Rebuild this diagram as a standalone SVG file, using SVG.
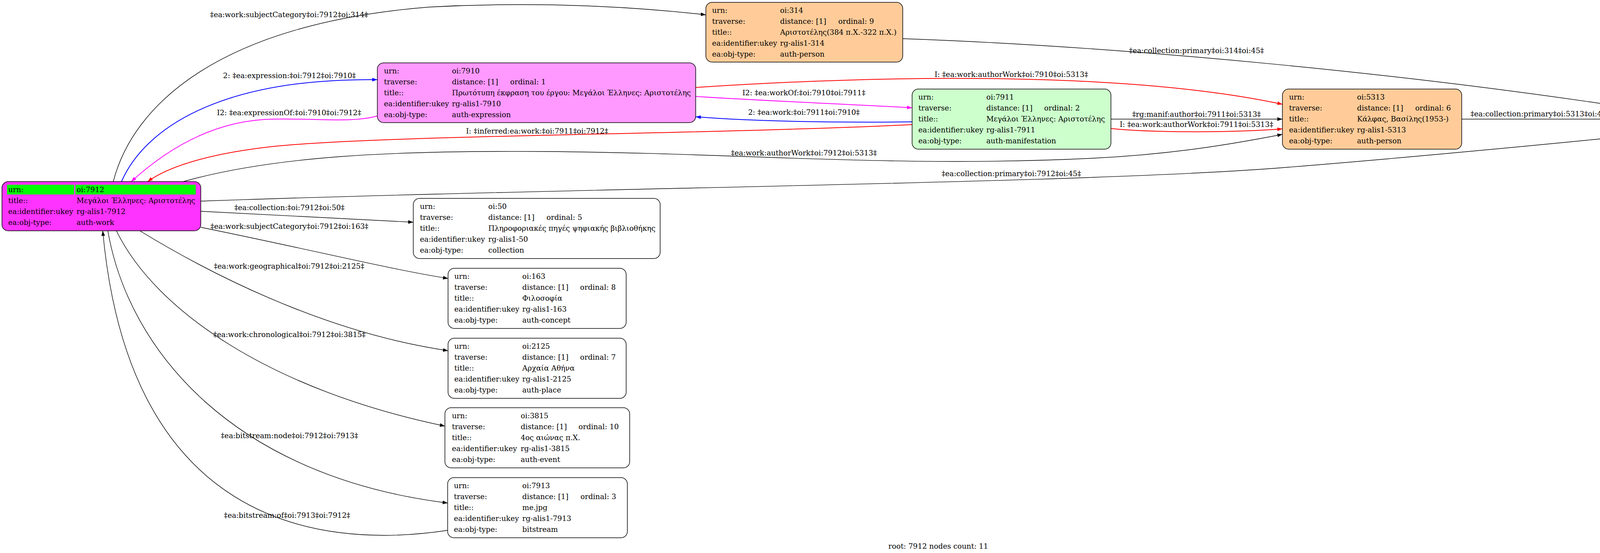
<svg xmlns="http://www.w3.org/2000/svg" width="4805" height="1416" viewBox="0 0 4805 1416">
<style>
text{font-family:"DejaVu Serif","Liberation Serif",serif;font-size:18.67px;fill:#000}
.box{stroke:#000;stroke-width:1.5}
.e{fill:none;stroke-width:1.4}
.k{stroke:#000}
.b{stroke:#0000ff;stroke-width:2}
.m{stroke:#ff00ff;stroke-width:2}
.r{stroke:#ff0000;stroke-width:2}
.lbl{text-anchor:middle}
</style>
<defs>
<marker id="ak" viewBox="0 0 14 10" markerWidth="14" markerHeight="10" refX="13" refY="5" orient="auto" markerUnits="userSpaceOnUse"><path d="M0,0.3 L13,5 L0,9.7z" fill="#000"/></marker>
<marker id="ab" viewBox="0 0 14 10" markerWidth="14" markerHeight="10" refX="13" refY="5" orient="auto" markerUnits="userSpaceOnUse"><path d="M0,0.3 L13,5 L0,9.7z" fill="#0000ff"/></marker>
<marker id="am" viewBox="0 0 14 10" markerWidth="14" markerHeight="10" refX="13" refY="5" orient="auto" markerUnits="userSpaceOnUse"><path d="M0,0.3 L13,5 L0,9.7z" fill="#ff00ff"/></marker>
<marker id="ar" viewBox="0 0 14 10" markerWidth="14" markerHeight="10" refX="13" refY="5" orient="auto" markerUnits="userSpaceOnUse"><path d="M0,0.3 L13,5 L0,9.7z" fill="#ff0000"/></marker>
</defs>
<rect width="4805" height="1416" fill="#fff"/>

<g id="edges">
<path class="e k" d="M290,465 C340,270 560,60 1100,18 C1400,2 1650,20 1807,38" marker-end="url(#ak)"/>
<text class="lbl" x="740" y="44">‡ea:work:subjectCategory‡oi:7912‡oi:314‡</text>

<path class="e b" d="M311,465 C370,330 560,200 966,204" marker-end="url(#ab)"/>
<text class="lbl" x="741" y="200">2: ‡ea:expression:‡oi:7912‡oi:7910‡</text>

<path class="e m" d="M966,297 C900,315 820,303 700,305 C560,307 440,370 336,465" marker-end="url(#am)"/>
<text class="lbl" x="740" y="295">I2: ‡ea:expressionOf:‡oi:7910‡oi:7912‡</text>

<path class="e r" d="M1781,224 C2300,190 2900,185 3283,267" marker-end="url(#ar)"/>
<text class="lbl" x="2589" y="197">I: ‡ea:work:authorWork‡oi:7910‡oi:5313‡</text>

<path class="e m" d="M1781,247 C1950,258 2200,268 2335,276" marker-end="url(#am)"/>
<text class="lbl" x="2058" y="244">I2: ‡ea:workOf:‡oi:7910‡oi:7911‡</text>

<path class="e b" d="M2335,312 C2150,314 1950,312 1781,299" marker-end="url(#ab)"/>
<text class="lbl" x="2058" y="294">2: ‡ea:work:‡oi:7911‡oi:7910‡</text>

<path class="e r" d="M2335,319 C1800,345 1000,345 700,375 C560,390 440,420 378,465" marker-end="url(#ar)"/>
<text class="lbl" x="1375" y="342">I: ‡inferred:ea:work:‡oi:7911‡oi:7912‡</text>

<path class="e k" d="M469,465 C700,400 1000,385 1400,388 C1900,392 2300,430 2800,405 C3000,395 3150,370 3283,344" marker-end="url(#ak)"/>
<text class="lbl" x="2058" y="398">‡ea:work:authorWork‡oi:7912‡oi:5313‡</text>

<path class="e k" d="M514,515 C1500,480 2800,470 3300,428 C3650,400 3950,370 4145,351" marker-end="url(#ak)"/>
<text class="lbl" x="2589" y="451">‡ea:collection:primary‡oi:7912‡oi:45‡</text>

<path class="e k" d="M2311,99 C2900,120 3600,190 4145,272" marker-end="url(#ak)"/>
<text class="lbl" x="3063" y="136">‡ea:collection:primary‡oi:314‡oi:45‡</text>

<path class="e k" d="M3742,305 L4145,305" marker-end="url(#ak)"/>
<text class="lbl" x="3943" y="298">‡ea:collection:primary‡oi:5313‡oi:45‡</text>

<path class="e k" d="M2844,305 L3283,305" marker-end="url(#ak)"/>
<text class="lbl" x="3063" y="299">‡rg:manif:author‡oi:7911‡oi:5313‡</text>

<path class="e r" d="M2844,329 C2950,340 3150,340 3283,330" marker-end="url(#ar)"/>
<text class="lbl" x="3063" y="325">I: ‡ea:work:authorWork‡oi:7911‡oi:5313‡</text>

<path class="e k" d="M514,541 L1058,569" marker-end="url(#ak)"/>
<text class="lbl" x="741" y="538">‡ea:collection:‡oi:7912‡oi:50‡</text>

<path class="e k" d="M514,582 C800,640 1000,690 1147,713" marker-end="url(#ak)"/>
<text class="lbl" x="741" y="586">‡ea:work:subjectCategory‡oi:7912‡oi:163‡</text>

<path class="e k" d="M358,591 C520,690 820,850 1147,898" marker-end="url(#ak)"/>
<text class="lbl" x="740" y="688">‡ea:work:geographical‡oi:7912‡oi:2125‡</text>

<path class="e k" d="M298,591 C400,800 700,1000 1139,1091" marker-end="url(#ak)"/>
<text class="lbl" x="741" y="863">‡ea:work:chronological‡oi:7912‡oi:3815‡</text>

<path class="e k" d="M276,591 C330,900 600,1220 1146,1288" marker-end="url(#ak)"/>
<text class="lbl" x="741" y="1122">‡ea:bitstream:node‡oi:7912‡oi:7913‡</text>

<path class="e k" d="M1146,1358 C800,1410 330,1330 263,591" marker-end="url(#ak)"/>
<text class="lbl" x="735" y="1326">‡ea:bitstream:of‡oi:7913‡oi:7912‡</text>
</g>

<g id="n7912">
<rect class="box" x="5" y="465" width="509" height="126" rx="16" fill="#ff33ff"/>
<rect x="18" y="473" width="172" height="25" fill="#00ff00"/>
<rect x="193" y="473" width="308" height="25" fill="#00ff00"/>
<text x="21" y="491.5">urn:</text><text x="196" y="491.5">oi:7912</text>
<text x="21" y="519.5">title::</text><text x="196" y="519.5">Μεγάλοι Έλληνες: Αριστοτέλης</text>
<text x="21" y="547.5">ea:identifier:ukey</text><text x="196" y="547.5">rg-alis1-7912</text>
<text x="21" y="575.5">ea:obj-type:</text><text x="196" y="575.5">auth-work</text>
</g>

<g id="n7910">
<rect class="box" x="966" y="161" width="815" height="153" rx="16" fill="#ff99ff"/>
<text x="983" y="188">urn:</text><text x="1157" y="188">oi:7910</text>
<text x="983" y="216">traverse:</text><text x="1157" y="216">distance: [1]</text><text x="1306" y="216">ordinal: 1</text>
<text x="983" y="244">title::</text><text x="1157" y="244">Πρωτότυπη έκφραση του έργου: Μεγάλοι Έλληνες: Αριστοτέλης</text>
<text x="983" y="272">ea:identifier:ukey</text><text x="1157" y="272">rg-alis1-7910</text>
<text x="983" y="300">ea:obj-type:</text><text x="1157" y="300">auth-expression</text>
</g>

<g id="n314">
<rect class="box" x="1807" y="6" width="504" height="153" rx="16" fill="#ffcc99"/>
<text x="1823" y="33">urn:</text><text x="1997" y="33">oi:314</text>
<text x="1823" y="61">traverse:</text><text x="1997" y="61">distance: [1]</text><text x="2146" y="61">ordinal: 9</text>
<text x="1823" y="89">title::</text><text x="1997" y="89">Αριστοτέλης(384 π.Χ.-322 π.Χ.)</text>
<text x="1823" y="117">ea:identifier:ukey</text><text x="1997" y="117">rg-alis1-314</text>
<text x="1823" y="145">ea:obj-type:</text><text x="1997" y="145">auth-person</text>
</g>

<g id="n7911">
<rect class="box" x="2335" y="228" width="509" height="154" rx="16" fill="#ccffcc"/>
<text x="2351" y="255">urn:</text><text x="2525" y="255">oi:7911</text>
<text x="2351" y="283">traverse:</text><text x="2525" y="283">distance: [1]</text><text x="2673" y="283">ordinal: 2</text>
<text x="2351" y="311">title::</text><text x="2525" y="311">Μεγάλοι Έλληνες: Αριστοτέλης</text>
<text x="2351" y="339">ea:identifier:ukey</text><text x="2525" y="339">rg-alis1-7911</text>
<text x="2351" y="367">ea:obj-type:</text><text x="2525" y="367">auth-manifestation</text>
</g>

<g id="n5313">
<rect class="box" x="3283" y="228" width="459" height="154" rx="16" fill="#ffcc99"/>
<text x="3300" y="255">urn:</text><text x="3474" y="255">oi:5313</text>
<text x="3300" y="283">traverse:</text><text x="3474" y="283">distance: [1]</text><text x="3623" y="283">ordinal: 6</text>
<text x="3300" y="311">title::</text><text x="3474" y="311">Κάλφας, Βασίλης(1953-)</text>
<text x="3300" y="339">ea:identifier:ukey</text><text x="3474" y="339">rg-alis1-5313</text>
<text x="3300" y="367">ea:obj-type:</text><text x="3474" y="367">auth-person</text>
</g>

<g id="n45">
<rect class="box" x="4145" y="228" width="658" height="154" rx="16" fill="#fff"/>
<text x="4162" y="255">urn:</text><text x="4337" y="255">oi:45</text>
<text x="4162" y="283">traverse:</text><text x="4337" y="283">distance: [1]</text><text x="4486" y="283">ordinal: 4</text>
<text x="4162" y="311">title::</text><text x="4337" y="311">36. Ιστορία της Αρχαίας ελληνικής φιλοσοφίας</text>
<text x="4162" y="339">ea:identifier:ukey</text><text x="4337" y="339">rg-alis1-45</text>
<text x="4162" y="367">ea:obj-type:</text><text x="4337" y="367">collection</text>
</g>

<g id="n50">
<rect class="box" x="1058" y="508" width="632" height="154" rx="16" fill="#fff"/>
<text x="1075" y="535">urn:</text><text x="1250" y="535">oi:50</text>
<text x="1075" y="563">traverse:</text><text x="1250" y="563">distance: [1]</text><text x="1399" y="563">ordinal: 5</text>
<text x="1075" y="591">title::</text><text x="1250" y="591">Πληροφοριακές πηγές ψηφιακής βιβλιοθήκης</text>
<text x="1075" y="619">ea:identifier:ukey</text><text x="1250" y="619">rg-alis1-50</text>
<text x="1075" y="647">ea:obj-type:</text><text x="1250" y="647">collection</text>
</g>

<g id="n163">
<rect class="box" x="1147" y="687" width="456" height="154" rx="16" fill="#fff"/>
<text x="1163" y="714">urn:</text><text x="1337" y="714">oi:163</text>
<text x="1163" y="742">traverse:</text><text x="1337" y="742">distance: [1]</text><text x="1485" y="742">ordinal: 8</text>
<text x="1163" y="770">title::</text><text x="1337" y="770">Φιλοσοφία</text>
<text x="1163" y="798">ea:identifier:ukey</text><text x="1337" y="798">rg-alis1-163</text>
<text x="1163" y="826">ea:obj-type:</text><text x="1337" y="826">auth-concept</text>
</g>

<g id="n2125">
<rect class="box" x="1147" y="866" width="456" height="154" rx="16" fill="#fff"/>
<text x="1163" y="893">urn:</text><text x="1337" y="893">oi:2125</text>
<text x="1163" y="921">traverse:</text><text x="1337" y="921">distance: [1]</text><text x="1485" y="921">ordinal: 7</text>
<text x="1163" y="949">title::</text><text x="1337" y="949">Αρχαία Αθήνα</text>
<text x="1163" y="977">ea:identifier:ukey</text><text x="1337" y="977">rg-alis1-2125</text>
<text x="1163" y="1005">ea:obj-type:</text><text x="1337" y="1005">auth-place</text>
</g>

<g id="n3815">
<rect class="box" x="1139" y="1044" width="473" height="154" rx="16" fill="#fff"/>
<text x="1157" y="1071">urn:</text><text x="1333" y="1071">oi:3815</text>
<text x="1157" y="1099">traverse:</text><text x="1333" y="1099">distance: [1]</text><text x="1481" y="1099">ordinal: 10</text>
<text x="1157" y="1127">title::</text><text x="1333" y="1127">4ος αιώνας π.Χ.</text>
<text x="1157" y="1155">ea:identifier:ukey</text><text x="1333" y="1155">rg-alis1-3815</text>
<text x="1157" y="1183">ea:obj-type:</text><text x="1333" y="1183">auth-event</text>
</g>

<g id="n7913">
<rect class="box" x="1146" y="1223" width="460" height="154" rx="16" fill="#fff"/>
<text x="1162" y="1250">urn:</text><text x="1337" y="1250">oi:7913</text>
<text x="1162" y="1278">traverse:</text><text x="1337" y="1278">distance: [1]</text><text x="1486" y="1278">ordinal: 3</text>
<text x="1162" y="1306">title::</text><text x="1337" y="1306">me.jpg</text>
<text x="1162" y="1334">ea:identifier:ukey</text><text x="1337" y="1334">rg-alis1-7913</text>
<text x="1162" y="1362">ea:obj-type:</text><text x="1337" y="1362">bitstream</text>
</g>

<text class="lbl" x="2402" y="1405">root: 7912 nodes count: 11</text>
</svg>
